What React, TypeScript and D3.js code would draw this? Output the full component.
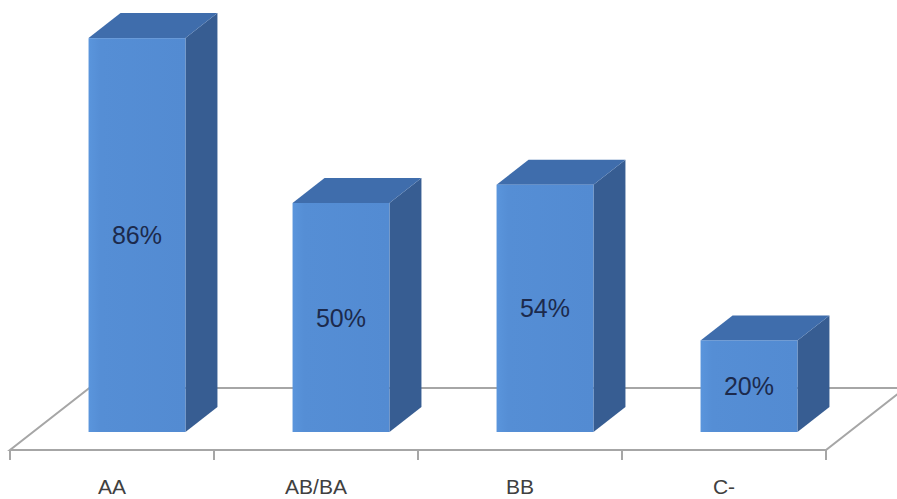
import React from "react";
import * as d3 from "d3";

const categories = ["AA", "AB/BA", "BB", "C-"];
const values = [86, 50, 54, 20];
const valueLabels = ["86%", "50%", "54%", "20%"];

const W = 897;
const H = 499;

export default function App() {
  const floorFrontY = 450;
  const floorLeft = 10;
  const floorRight = 826;
  const floorDepthY = 62;
  const slope = 32 / 25; // dx per dy for the oblique projection
  const floorDepthX = floorDepthY * slope;

  const barFrontOffsetY = 18; // distance of bar front from floor front
  const barDepthY = 25;
  const barDepthX = barDepthY * slope;

  const x = d3.scaleBand<string>().domain(categories).range([floorLeft, floorRight]).padding(0);
  const h = d3.scaleLinear().domain([0, 100]).range([0, 458]);

  const barW = x.bandwidth() * 0.475;
  const baseY = floorFrontY - barFrontOffsetY;
  const shiftX = 25;

  const floorPts = [
    [floorLeft, floorFrontY],
    [floorRight, floorFrontY],
    [floorRight + floorDepthX, floorFrontY - floorDepthY],
    [floorLeft + floorDepthX, floorFrontY - floorDepthY],
  ];
  const ticks = [...categories.map((c) => x(c) as number), floorRight];

  return (
    <svg width={W} height={H} style={{ position: "absolute", left: 0, top: 0, background: "#fff" }}>
      <defs>
        <linearGradient id="front" x1="0" x2="1" y1="0" y2="0">
          <stop offset="0" stopColor="#5a95dc" />
          <stop offset="0.12" stopColor="#558ed5" />
          <stop offset="1" stopColor="#538bd2" />
        </linearGradient>
      </defs>
      <polygon
        points={floorPts.map((p) => p.join(",")).join(" ")}
        fill="#fff"
        stroke="#a6a6a6"
        strokeWidth={2}
      />
      {ticks.map((t, i) => (
        <line key={i} x1={t} x2={t} y1={floorFrontY} y2={floorFrontY + 10} stroke="#a6a6a6" strokeWidth={2} />
      ))}
      {categories.map((c, i) => {
        const cx = (x(c) as number) + x.bandwidth() / 2 + shiftX;
        const x0 = cx - barW / 2;
        const x1 = cx + barW / 2;
        const top = baseY - h(values[i]);
        const top2 = top - barDepthY;
        const side = [
          [x1, baseY],
          [x1, top],
          [x1 + barDepthX, top2],
          [x1 + barDepthX, baseY - barDepthY],
        ];
        const topFace = [
          [x0, top],
          [x1, top],
          [x1 + barDepthX, top2],
          [x0 + barDepthX, top2],
        ];
        return (
          <g key={c}>
            <polygon points={side.map((p) => p.join(",")).join(" ")} fill="#375d92" />
            <polygon points={topFace.map((p) => p.join(",")).join(" ")} fill="#3f6dac" />
            <rect x={x0} y={top} width={barW} height={baseY - top} fill="url(#front)" />
            <text
              x={cx}
              y={(top + baseY) / 2}
              textAnchor="middle"
              dominantBaseline="central"
              fontFamily="'Liberation Sans', Arial, sans-serif"
              fontSize={25}
              fill="#1c2a4c"
            >
              {valueLabels[i]}
            </text>
          </g>
        );
      })}
      {categories.map((c) => (
        <text
          key={"l" + c}
          x={(x(c) as number) + x.bandwidth() / 2}
          y={494}
          textAnchor="middle"
          fontFamily="'Liberation Sans', Arial, sans-serif"
          fontSize={21}
          fill="#404040"
        >
          {c}
        </text>
      ))}
    </svg>
  );
}
